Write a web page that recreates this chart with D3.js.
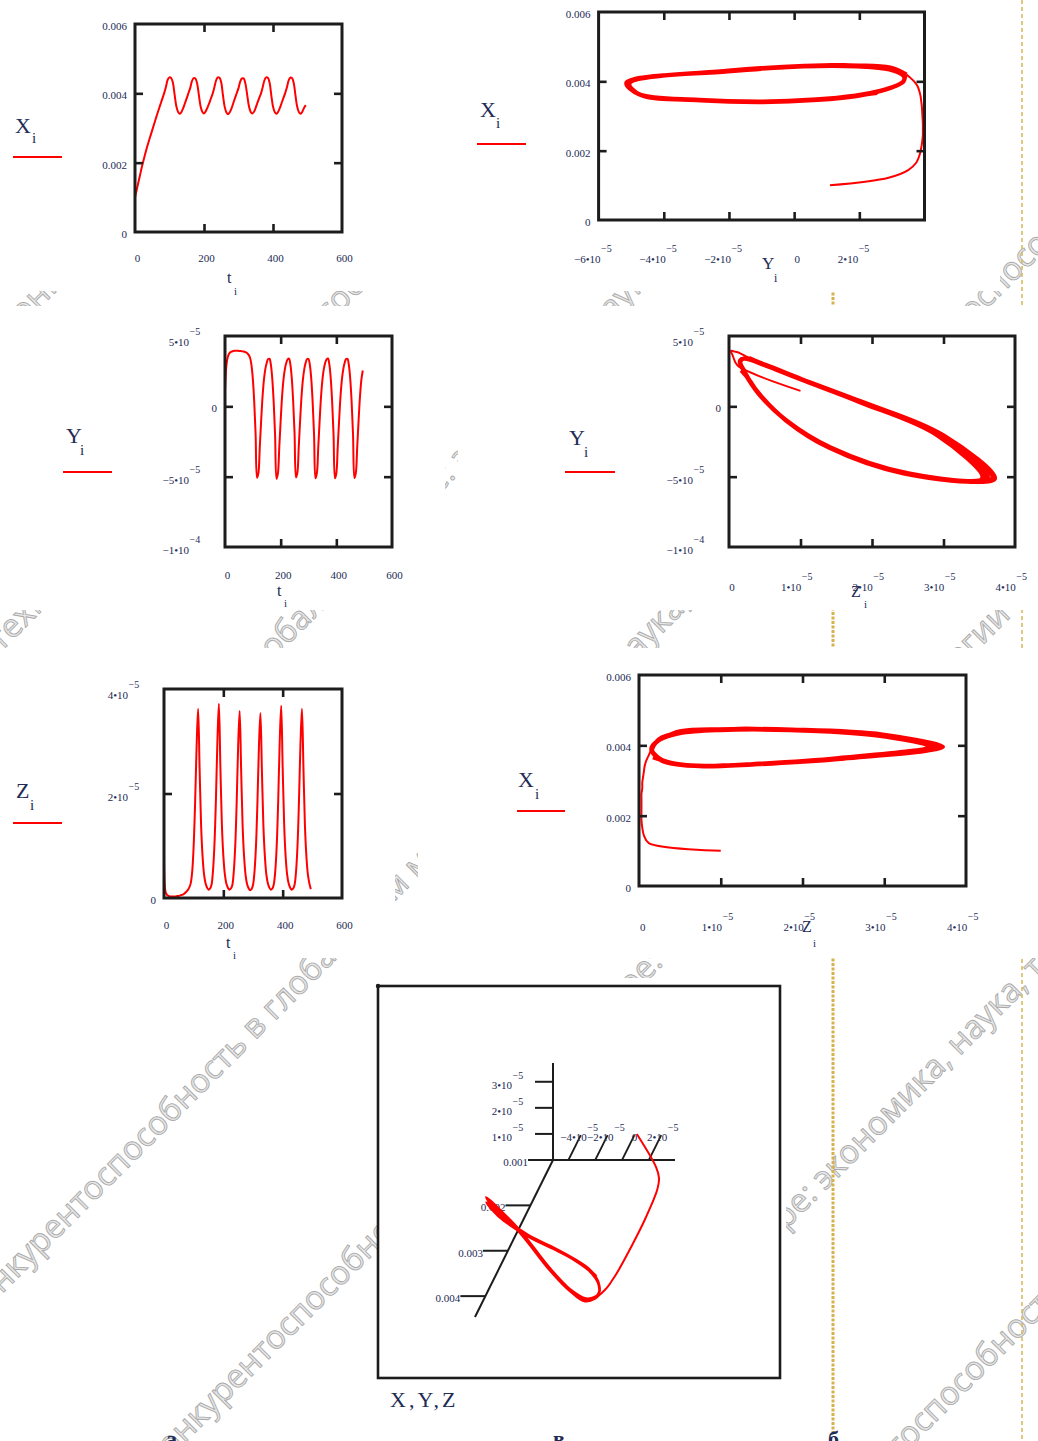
<!DOCTYPE html>
<html><head><meta charset="utf-8">
<script src="https://cdn.jsdelivr.net/npm/d3@7/dist/d3.min.js"></script>
<style>
html,body{margin:0;padding:0;background:#fff}
svg{display:block}
.lbl{font-family:"Liberation Serif","Times New Roman",serif;fill:#222b55}
</style>
</head><body>
<svg id="chart" width="1038" height="1441" xmlns="http://www.w3.org/2000/svg"></svg>
<script>
// ================= DATA =================
const t = [0,5,10,15,20,25,30,35,40,45,50,55,60,65,70,75,80,85,90,95,100,105,110,115,120,125,130,135,140,145,150,155,160,165,170,175,180,185,190,195,200,205,210,215,220,225,230,235,240,245,250,255,260,265,270,275,280,285,290,295,300,305,310,315,320,325,330,335,340,345,350,355,360,365,370,375,380,385,390,395,400,405,410,415,420,425,430,435,440,445,450,455,460,465,470,475,480,485,490,495];
// X_i in units of 1e-3
const X_e3 = [1.00,1.22,1.44,1.66,1.88,2.08,2.27,2.45,2.62,2.78,2.94,3.10,3.26,3.42,3.57,3.72,3.87,4.02,
4.20,4.40,4.46,4.44,4.30,3.95,3.62,3.46,3.41,3.47,3.58,3.72,3.86,4.01,
4.15,4.35,4.44,4.43,4.29,3.96,3.63,3.47,3.42,3.48,3.59,3.71,3.85,3.99,
4.17,4.37,4.46,4.45,4.31,3.94,3.61,3.45,3.40,3.46,3.57,3.72,3.87,4.01,
4.15,4.34,4.43,4.43,4.28,3.97,3.64,3.47,3.42,3.47,3.59,3.73,3.86,3.99,
4.17,4.37,4.46,4.45,4.31,3.95,3.62,3.46,3.41,3.47,3.58,3.72,3.86,4.00,
4.16,4.36,4.45,4.44,4.30,3.95,3.62,3.46,3.41,3.47,3.58,3.66];
// Y_i in units of 1e-5
const Y_e5 = [1.10,2.90,3.50,3.75,3.85,3.90,3.93,3.95,3.95,3.95,3.94,3.93,3.92,3.90,3.88,3.84,3.78,3.66,
3.45,2.95,1.95,0.32,-1.98,-5.08,-4.75,-2.88,-0.98,0.72,1.92,2.66,3.10,3.36,
3.37,2.93,1.92,0.28,-2.05,-5.15,-4.78,-2.92,-1.02,0.68,1.88,2.63,3.08,3.34,
3.39,2.97,1.98,0.33,-1.96,-5.05,-4.72,-2.88,-0.97,0.72,1.91,2.66,3.11,3.36,
3.36,2.92,1.93,0.27,-2.03,-5.12,-4.77,-2.93,-1.03,0.67,1.88,2.64,3.09,3.34,
3.40,2.96,1.96,0.31,-2.01,-5.12,-4.76,-2.90,-1.00,0.70,1.90,2.65,3.10,3.36,
3.38,2.94,1.94,0.29,-2.00,-5.10,-4.75,-2.90,-1.00,0.70,1.90,2.55];
// Z_i in units of 1e-5
const Z_e5 = [1.00,0.12,0.06,0.04,0.03,0.03,0.03,0.03,0.03,0.04,0.04,0.05,0.06,0.07,0.09,0.12,0.15,0.20,
0.28,0.50,1.00,1.85,2.92,3.62,2.48,1.40,0.80,0.45,0.28,0.20,0.16,0.18,
0.25,0.51,1.02,1.88,3.00,3.72,2.52,1.42,0.81,0.46,0.28,0.20,0.16,0.18,
0.24,0.49,0.98,1.83,2.92,3.58,2.46,1.38,0.79,0.44,0.27,0.19,0.15,0.17,
0.25,0.50,0.99,1.84,2.90,3.54,2.44,1.39,0.80,0.45,0.28,0.20,0.16,0.18,
0.26,0.51,1.01,1.87,2.98,3.68,2.51,1.41,0.80,0.45,0.28,0.20,0.16,0.18,
0.25,0.50,1.00,1.86,2.95,3.62,2.50,1.40,0.80,0.45,0.28,0.17];

// tick values and labels
const timeTicks = [0,200,400,600];
const timeTickLabels = ["0","200","400","600"];
const xTicks = [0,0.002,0.004,0.006];
const xTickLabels = ["0","0.002","0.004","0.006"];
const yTicks = [-1e-4,-5e-5,0,5e-5];
const yTickMant = ["−1•10","−5•10","0","5•10"];
const yTickExp = ["−4","−5","","−5"];
const yPhaseTicks = [-6e-5,-4e-5,-2e-5,0,2e-5];
const yPhaseMant = ["−6•10","−4•10","−2•10","0","2•10"];
const yPhaseExp = ["−5","−5","−5","","−5"];
const zTicks = [0,1e-5,2e-5,3e-5,4e-5];
const zTickMant = ["0","1•10","2•10","3•10","4•10"];
const zTickExp = ["","−5","−5","−5","−5"];
const zTimeTicks = [0,2e-5,4e-5];
const zTimeMant = ["0","2•10","4•10"];
const zTimeExp = ["","−5","−5"];
const d3YTicks = [-4e-5,-2e-5,0,2e-5];
const d3YMant = ["−4•10","−2•10","0","2•10"];
const d3YExp = ["−5","−5","","−5"];
const d3ZTicks = [1e-5,2e-5,3e-5];
const d3ZMant = ["1•10","2•10","3•10"];
const d3XTicks = [0.001,0.002,0.003,0.004];
const d3XLabels = ["0.001","0.002","0.003","0.004"];
const captions = ["а","в","б"];
const WATERMARK = "Конкурентоспособность в глобальном мире: экономика, наука, технологии";

// ================= BUILD =================
const Xv = X_e3.map(v => v*1e-3), Yv = Y_e5.map(v => v*1e-5), Zv = Z_e5.map(v => v*1e-5);
const rows = t.map((tt,i) => ({t:tt, X:Xv[i], Y:Yv[i], Z:Zv[i]}));
const SPLIT = t.indexOf(90);           // end of the start-up transient (styling only)
const RED = "#ff0000", INK = "#1c1c1c";

const svg = d3.select("#chart");
const defs = svg.append("defs");
svg.append("rect").attr("width",1038).attr("height",1441).attr("fill","#fff");

// ---- watermark (behind the plot images) ----
const wm = svg.append("g");
const probe = wm.append("text").attr("font-family","Open Sans").attr("font-size",30).text(WATERMARK);
const pn = probe.node();
const ctr30 = i => pn.getStartPositionOfChar(i).x + pn.getExtentOfChar(i).width/2;
const wmFs = 30 * ((645-185)*Math.SQRT2) / (ctr30(38) - ctr30(2));
probe.attr("font-size", wmFs);
const ctr = i => pn.getStartPositionOfChar(i).x + pn.getExtentOfChar(i).width/2;
probe.text(WATERMARK + "\u00a0\u00a0\u00a0\u00a0");
const repX = pn.getComputedTextLength() / Math.SQRT2;
probe.text(WATERMARK);
const centers = d3.range(WATERMARK.length).map(ctr);
probe.remove();
// each diagonal line: x+y = c, and one character index anchored at a page x
const wmLines = [{c:335,i:0,x:10},{c:640,i:60,x:12},{c:920,i:53,x:612},{c:1283,i:27,x:312},
                 {c:1615,i:38,x:645},{c:2003,i:38,x:800},{c:2345,i:9,x:910}];
const off = 0.28*wmFs*Math.SQRT1_2;
wmLines.forEach(ln => {
  const base = ln.x - centers[ln.i]/Math.SQRT2;
  for (let n=-3;n<=3;n++){
    const x0 = base + n*repX;
    if (x0 > 1100 || x0 + repX < -50) continue;
    wm.append("text")
      .attr("transform",`translate(${x0+off},${ln.c - x0 + off}) rotate(-45)`)
      .attr("font-family","Open Sans").attr("font-size",wmFs)
      .attr("fill","#e6e6e6").attr("stroke","#a8a8a8").attr("stroke-width",0.85)
      .text(WATERMARK);
  }
});

// gold column rules
svg.append("line").attr("x1",833).attr("x2",833).attr("y1",0).attr("y2",1432)
  .attr("stroke","#d6b24c").attr("stroke-width",3).attr("stroke-dasharray","3,1.5");
svg.append("line").attr("x1",1022).attr("x2",1022).attr("y1",0).attr("y2",1441)
  .attr("stroke","#d9bb5e").attr("stroke-width",1.6).attr("stroke-dasharray","4,3");

// white plot images covering the watermark
[[0,0,1000,291],[0,306,445,304],[458,306,580,304],[0,648,395,310],[418,648,620,310],[378,978,408,463]]
  .forEach(r => svg.append("rect").attr("x",r[0]).attr("y",r[1]).attr("width",r[2]).attr("height",r[3]).attr("fill","#fff"));

// ---- helpers ----
function expLabel(g, x, y, mant, exp, anchor, fs, supDy){
  const base = g.append("text").attr("class","lbl").attr("y",y).attr("font-size",fs).text(mant);
  let sup = null, w2 = 0;
  if (exp){
    sup = g.append("text").attr("class","lbl").attr("y",y-supDy).attr("font-size",fs-1).text(exp);
    w2 = sup.node().getComputedTextLength();
  }
  const w1 = base.node().getComputedTextLength();
  const x0 = anchor==="end" ? x - w1 : anchor==="middle" ? x - (w1+w2)/2 : x;
  base.attr("x",x0);
  if (sup) sup.attr("x",x0+w1+0.5);
}
function subTitle(g, x, y, letter, fs, sx, sy){
  g.append("text").attr("class","lbl").attr("x",x).attr("y",y).attr("font-size",fs).text(letter);
  g.append("text").attr("class","lbl").attr("x",sx).attr("y",sy).attr("font-size",Math.round(fs*0.68)).text("i");
}
function legend(g, o){
  subTitle(g, o.x, o.y, o.letter, 22, o.sx, o.sy);
  g.append("line").attr("x1",o.l1).attr("x2",o.l2).attr("y1",o.ly).attr("y2",o.ly)
   .attr("stroke",RED).attr("stroke-width",2);
}

function panel(o){
  const g = svg.append("g");
  const xs = d3.scaleLinear().domain(o.xd).range([o.L,o.R]);
  const ys = d3.scaleLinear().domain(o.yd).range([o.B,o.T]);
  const cid = "clip-"+o.id;
  defs.append("clipPath").attr("id",cid).append("rect")
    .attr("x",o.L).attr("y",o.T).attr("width",o.R-o.L).attr("height",o.B-o.T);
  const line = d3.line().x(d => xs(d[0])).y(d => ys(d[1])).curve(d3.curveCatmullRom.alpha(0.5));
  o.series.forEach(s => g.append("path").attr("d",line(s.pts)).attr("fill","none")
     .attr("stroke",RED).attr("stroke-width",s.w).attr("stroke-linejoin","round")
     .attr("clip-path",`url(#${cid})`));
  const tk = 8;
  const ax = [
    g.append("g").attr("transform",`translate(0,${o.B})`).call(d3.axisTop(xs).tickValues(o.xt).tickSize(tk).tickFormat("")),
    g.append("g").attr("transform",`translate(0,${o.T})`).call(d3.axisBottom(xs).tickValues(o.xt).tickSize(tk).tickFormat("")),
    g.append("g").attr("transform",`translate(${o.L},0)`).call(d3.axisRight(ys).tickValues(o.yt).tickSize(tk).tickFormat("")),
    g.append("g").attr("transform",`translate(${o.R},0)`).call(d3.axisLeft(ys).tickValues(o.yt).tickSize(tk).tickFormat(""))
  ];
  ax.forEach(a => { a.select(".domain").remove(); a.selectAll(".tick line").attr("stroke",INK).attr("stroke-width",2.6); });
  g.append("rect").attr("x",o.L).attr("y",o.T).attr("width",o.R-o.L).attr("height",o.B-o.T)
    .attr("fill","none").attr("stroke",INK).attr("stroke-width",3);
  o.yLab.vals.forEach((v,i) => {
    const m = o.yLab.mant[i], e = o.yLab.exp ? o.yLab.exp[i] : "";
    if (e) expLabel(g, o.L-36, Math.max(ys(v)+7, o.T+10), m, e, "end", 11, 11);
    else expLabel(g, o.L-8, ys(v)+6, m, "", "end", 11, 0);
  });
  o.xLab.vals.forEach((v,i) => {
    const m = o.xLab.mant[i], e = o.xLab.exp ? o.xLab.exp[i] : "";
    if (e) expLabel(g, xs(v)+o.xLab.dx, o.B+o.xLab.dy, m, e, "middle", 11, 11);
    else expLabel(g, xs(v)+(o.xLab.dx0 ?? 3), o.B+o.xLab.dy, m, "", "middle", 11, 0);
  });
  subTitle(g, o.title.x, o.title.y, o.title.letter, o.title.fs, o.title.sx, o.title.sy);
  legend(g, o.legend);
  return g;
}
const pairs = (a,b,from,to) => rows.slice(from,to).map(r => [r[a], r[b]]);
const LOOP_W = 4;

// ---- 1: X(t) ----
panel({id:"xt", L:135,R:342,T:24,B:232, xd:[0,600], yd:[0,0.006], xt:[200,400], yt:[0.002,0.004],
  series:[{pts:pairs("t","X",0,rows.length), w:2}],
  yLab:{vals:xTicks, mant:xTickLabels},
  xLab:{vals:timeTicks, mant:timeTickLabels, dy:30, dx0:2.5},
  title:{letter:"t", x:227, y:283, fs:16, sx:234, sy:295},
  legend:{letter:"X", x:15, y:133, sx:32, sy:143, l1:13, l2:62, ly:157}});

// ---- 2: X(Y) ----
panel({id:"xy", L:598.6,R:924.5,T:12,B:220, xd:[-6e-5,4e-5], yd:[0,0.006], xt:[-4e-5,-2e-5,0,2e-5], yt:[0.002,0.004],
  series:[{pts:pairs("Y","X",0,SPLIT+1), w:2},{pts:pairs("Y","X",SPLIT,rows.length), w:LOOP_W}],
  yLab:{vals:xTicks, mant:xTickLabels},
  xLab:{vals:yPhaseTicks, mant:yPhaseMant, exp:yPhaseExp, dy:43, dx:-6, dx0:3},
  title:{letter:"Y", x:762, y:269, fs:17, sx:774, sy:282},
  legend:{letter:"X", x:480, y:117, sx:496, sy:128, l1:477, l2:526, ly:144}});

// ---- 3: Y(t) ----
panel({id:"yt", L:225,R:392,T:336,B:547, xd:[0,600], yd:[-1e-4,5e-5], xt:[200,400], yt:[-5e-5,0],
  series:[{pts:pairs("t","Y",0,rows.length), w:2}],
  yLab:{vals:yTicks, mant:yTickMant, exp:yTickExp},
  xLab:{vals:timeTicks, mant:timeTickLabels, dy:32, dx0:2.5},
  title:{letter:"t", x:277, y:596, fs:16, sx:284, sy:607},
  legend:{letter:"Y", x:66, y:443, sx:80, sy:455, l1:63, l2:112, ly:472}});

// ---- 4: Y(Z) ----
panel({id:"yz", L:729,R:1015,T:336,B:547, xd:[0,4e-5], yd:[-1e-4,5e-5], xt:[1e-5,2e-5,3e-5], yt:[-5e-5,0],
  series:[{pts:pairs("Z","Y",0,SPLIT+1), w:2},{pts:pairs("Z","Y",SPLIT,rows.length), w:LOOP_W}],
  yLab:{vals:yTicks, mant:yTickMant, exp:yTickExp},
  xLab:{vals:zTicks, mant:zTickMant, exp:zTickExp, dy:44, dx:-4, dx0:3},
  title:{letter:"Z", x:851, y:597, fs:16, sx:864, sy:608},
  legend:{letter:"Y", x:569, y:445, sx:584, sy:457, l1:565, l2:615, ly:472}});

// ---- 5: Z(t) ----
panel({id:"zt", L:164,R:342,T:689,B:898, xd:[0,600], yd:[0,4e-5], xt:[200,400], yt:[2e-5],
  series:[{pts:pairs("t","Z",0,rows.length), w:2}],
  yLab:{vals:zTimeTicks, mant:zTimeMant, exp:zTimeExp},
  xLab:{vals:timeTicks, mant:timeTickLabels, dy:31, dx0:2.5},
  title:{letter:"t", x:226, y:948, fs:16, sx:233, sy:959},
  legend:{letter:"Z", x:16, y:798, sx:30, sy:810, l1:13, l2:62, ly:823}});

// ---- 6: X(Z) ----
panel({id:"xz", L:639,R:966,T:675,B:886, xd:[0,4e-5], yd:[0,0.006], xt:[1e-5,2e-5,3e-5], yt:[0.002,0.004],
  series:[{pts:pairs("Z","X",0,SPLIT+1), w:2},{pts:pairs("Z","X",SPLIT,rows.length), w:LOOP_W}],
  yLab:{vals:xTicks, mant:xTickLabels},
  xLab:{vals:zTicks, mant:zTickMant, exp:zTickExp, dy:45, dx:-3.5, dx0:3.7},
  title:{letter:"Z", x:802, y:932, fs:16, sx:813, sy:947},
  legend:{letter:"X", x:518, y:787, sx:535, sy:799, l1:517, l2:565, ly:811}});

// ---- 7: 3-D trajectory X,Y,Z ----
const g3 = svg.append("g");
g3.append("rect").attr("x",378).attr("y",986).attr("width",402).attr("height",392)
  .attr("fill","none").attr("stroke",INK).attr("stroke-width",2.6);
g3.append("circle").attr("cx",378).attr("cy",986).attr("r",2.2).attr("fill",INK);
const O = [553,1160], vX = [-78,157], vY = [122,0], vZ = [0,-97];
const s3x = d3.scaleLinear().domain(d3.extent(Xv)).range([0,1]);
const s3y = d3.scaleLinear().domain(d3.extent(Yv)).range([0,1]);
const s3z = d3.scaleLinear().domain([0,d3.max(Zv)]).range([0,1]);
const [xMin,xMax] = s3x.domain(), [yMin,yMax] = s3y.domain(), zMax = s3z.domain()[1];
const proj = (x,y,z) => { const a=s3x(x), b=s3y(y), c=s3z(z);
  return [O[0]+a*vX[0]+b*vY[0]+c*vZ[0], O[1]+a*vX[1]+b*vY[1]+c*vZ[1]]; };
const seg = (p,q,w) => g3.append("line").attr("x1",p[0]).attr("y1",p[1]).attr("x2",q[0]).attr("y2",q[1])
  .attr("stroke",INK).attr("stroke-width",w||2);
seg(proj(xMin,yMin,0), proj(xMax,yMin,0));
seg(proj(xMin,yMin,0), proj(xMin,yMax,0));
seg(proj(xMin,yMin,0), proj(xMin,yMin,zMax));
d3ZTicks.forEach((z,i) => { const p = proj(xMin,yMin,z); seg([p[0]-18,p[1]], p);
  expLabel(g3, p[0]-41, p[1]+7, d3ZMant[i], "−5", "end", 11, 10); });
d3XTicks.forEach((x,i) => { const p = proj(x,yMin,0); seg([p[0]-25,p[1]], p);
  expLabel(g3, p[0]-25, p[1]+6, d3XLabels[i], "", "end", 11, 0); });
d3YTicks.forEach((y,i) => { const p = proj(xMin,y,0), q = proj(xMin-0.00055,y,0); seg(p,q,1.8);
  if (d3YExp[i]) expLabel(g3, q[0]+6, q[1]+6, d3YMant[i], d3YExp[i], "end", 11, 10);
  else expLabel(g3, q[0], q[1]+6, d3YMant[i], "", "middle", 11, 0); });
const line3 = d3.line().x(d => proj(d.X,d.Y,d.Z)[0]).y(d => proj(d.X,d.Y,d.Z)[1]).curve(d3.curveCatmullRom.alpha(0.5));
g3.append("path").attr("d",line3(rows.slice(0,SPLIT+1))).attr("fill","none").attr("stroke",RED).attr("stroke-width",2);
g3.append("path").attr("d",line3(rows.slice(SPLIT))).attr("fill","none").attr("stroke",RED).attr("stroke-width",2.6).attr("stroke-linejoin","round");
g3.append("text").attr("class","lbl").attr("x",390).attr("y",1407).attr("font-size",22)
  .attr("letter-spacing",3).text("X,Y,Z");

// captions cut by the page edge
[[166,captions[0]],[553,captions[1]],[828,captions[2]]].forEach(c =>
  svg.append("text").attr("class","lbl").attr("x",c[0]).attr("y",1446).attr("font-size",22).attr("font-weight","bold").text(c[1]));
</script>
</body></html>
